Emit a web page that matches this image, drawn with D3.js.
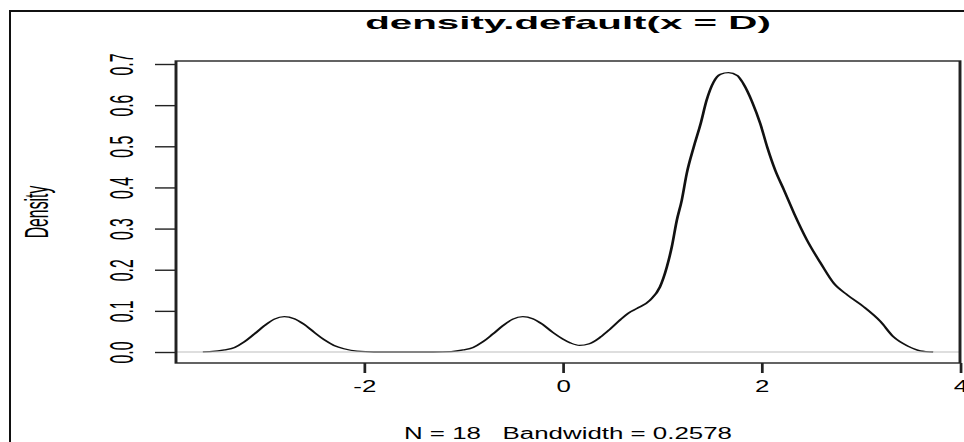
<!DOCTYPE html>
<html>
<head>
<meta charset="utf-8">
<script src="https://cdn.jsdelivr.net/npm/d3@7"></script>
<style>
  html, body { margin: 0; padding: 0; background: #fff; }
  svg { display: block; }
  text { font-family: "Liberation Sans", Arial, Helvetica, sans-serif; fill: #000; }
</style>
</head>
<body>
<svg id="chart" width="964" height="442"></svg>
<script>
// ---- data ----
const titleText = "density.default(x = D)";
const subText = "N = 18   Bandwidth = 0.2578";
const yLabel = "Density";
const xTicks = [-2, 0, 2, 4];
const yTicks = [0.0, 0.1, 0.2, 0.3, 0.4, 0.5, 0.6, 0.7];
const xDomain = [-3.89, 4.0];
const yDomain = [-0.0267, 0.7073];

const curveX = [-3.62, -3.55, -3.40, -3.30, -3.20, -3.10, -3.00, -2.90, -2.80, -2.70, -2.60, -2.50, -2.40, -2.30, -2.20, -2.07, -1.90,
  -1.30, -1.12, -1.00, -0.90, -0.80, -0.70, -0.60, -0.50, -0.40, -0.30, -0.20, -0.10, 0.00, 0.08, 0.17, 0.27, 0.38, 0.48,
  0.58, 0.66, 0.75, 0.88, 0.98, 1.05, 1.10, 1.15, 1.20, 1.25, 1.32, 1.39, 1.45, 1.52, 1.59, 1.67, 1.76, 1.82, 1.91, 1.99,
  2.06, 2.14, 2.23, 2.33, 2.46, 2.60, 2.73, 2.87, 3.03, 3.20, 3.33, 3.47, 3.60, 3.73];
const curveY = [0.0005, 0.001, 0.005, 0.011, 0.025, 0.044, 0.064, 0.080, 0.086, 0.081, 0.067, 0.048, 0.030, 0.016, 0.008, 0.002, 0.000,
  0.000, 0.001, 0.005, 0.011, 0.025, 0.044, 0.064, 0.080, 0.086, 0.081, 0.067, 0.048, 0.032, 0.022, 0.016, 0.020, 0.036, 0.056,
  0.078, 0.094, 0.106, 0.126, 0.158, 0.207, 0.256, 0.320, 0.369, 0.434, 0.498, 0.555, 0.612, 0.656, 0.675, 0.679, 0.672, 0.652, 0.607, 0.555,
  0.498, 0.442, 0.393, 0.337, 0.272, 0.215, 0.167, 0.138, 0.110, 0.074, 0.037, 0.015, 0.003, 0.000];

// ---- layout ----
const SX = 2.1;            // horizontal stretch of the original picture
const box = { left: 176, right: 960, top: 61, bottom: 363 };
const fs = 15.8;
const bottomTextSqueeze = 0.78;  // x tick labels and subtitle are narrower

const svg = d3.select("#chart");

// outer frame (top and left edges visible)
svg.append("line").attr("x1", 9).attr("x2", 964).attr("y1", 11).attr("y2", 11)
  .attr("stroke", "#111").attr("stroke-width", 2);
svg.append("line").attr("x1", 10).attr("x2", 10).attr("y1", 10).attr("y2", 442)
  .attr("stroke", "#111").attr("stroke-width", 2);

const g = svg.append("g").attr("transform", `scale(${SX},1)`);

const x = d3.scaleLinear().domain(xDomain).range([box.left / SX, box.right / SX]);
const y = d3.scaleLinear().domain(yDomain).range([box.bottom, box.top]);

const pts = curveX.map((d, i) => [d, curveY[i]]);

// density curve
g.append("path")
  .datum(pts)
  .attr("fill", "none")
  .attr("stroke", "#111")
  .attr("stroke-width", 1.3)
  .attr("stroke-linejoin", "round")
  .attr("d", d3.line().x(d => x(d[0])).y(d => y(d[1])).curve(d3.curveMonotoneX));

// zero line (gray, on top)
g.append("line")
  .attr("x1", x.range()[0]).attr("x2", x.range()[1])
  .attr("y1", y(0)).attr("y2", y(0))
  .attr("stroke", "#bebebe").attr("stroke-width", 1.2);

// plot box
g.append("rect")
  .attr("x", x.range()[0]).attr("y", box.top)
  .attr("width", x.range()[1] - x.range()[0]).attr("height", box.bottom - box.top)
  .attr("fill", "none").attr("stroke", "#222").attr("stroke-width", 1.4);

// x axis
const xAxis = g.append("g").attr("transform", `translate(0,${box.bottom})`)
  .call(d3.axisBottom(x).tickValues(xTicks).tickSize(10).tickFormat(d => String(d)));
xAxis.select(".domain").remove();
xAxis.selectAll(".tick line").attr("stroke", "#222").attr("stroke-width", 1.3);
xAxis.selectAll(".tick text")
  .attr("x", 0).attr("y", 0).attr("dy", 0)
  .attr("transform", `translate(0,${392 - box.bottom}) scale(${bottomTextSqueeze},1)`)
  .attr("font-size", fs).attr("font-family", "Liberation Sans, Arial, sans-serif")
  .attr("fill", "#000");

// y axis
const yAxis = g.append("g").attr("transform", `translate(${x.range()[0]},0)`)
  .call(d3.axisLeft(y).tickValues(yTicks).tickSize(10).tickFormat(d => d.toFixed(1)));
yAxis.select(".domain").remove();
yAxis.selectAll(".tick line").attr("stroke", "#222").attr("stroke-width", 1.4);
yAxis.selectAll(".tick text")
  .attr("x", 0).attr("y", 0).attr("dy", 0)
  .attr("text-anchor", "middle")
  .attr("transform", `translate(${-(box.left - 133) / SX},0) rotate(-90)`)
  .attr("font-size", fs).attr("font-family", "Liberation Sans, Arial, sans-serif")
  .attr("fill", "#000");

const cx = (x.range()[0] + x.range()[1]) / 2;

// title
g.append("text")
  .attr("x", cx).attr("y", 29)
  .attr("text-anchor", "middle")
  .attr("font-size", 19.2).attr("font-weight", "bold")
  .text(titleText);

// subtitle
g.append("text")
  .attr("x", 0).attr("y", 0)
  .attr("transform", `translate(${cx},439) scale(${bottomTextSqueeze},1)`)
  .attr("text-anchor", "middle")
  .attr("font-size", fs)
  .style("white-space", "pre")
  .attr("xml:space", "preserve")
  .text(subText);

// y label
g.append("text")
  .attr("transform", `translate(${48 / SX},${(box.top + box.bottom) / 2}) rotate(-90)`)
  .attr("text-anchor", "middle")
  .attr("font-size", fs)
  .text(yLabel);
</script>
</body>
</html>
